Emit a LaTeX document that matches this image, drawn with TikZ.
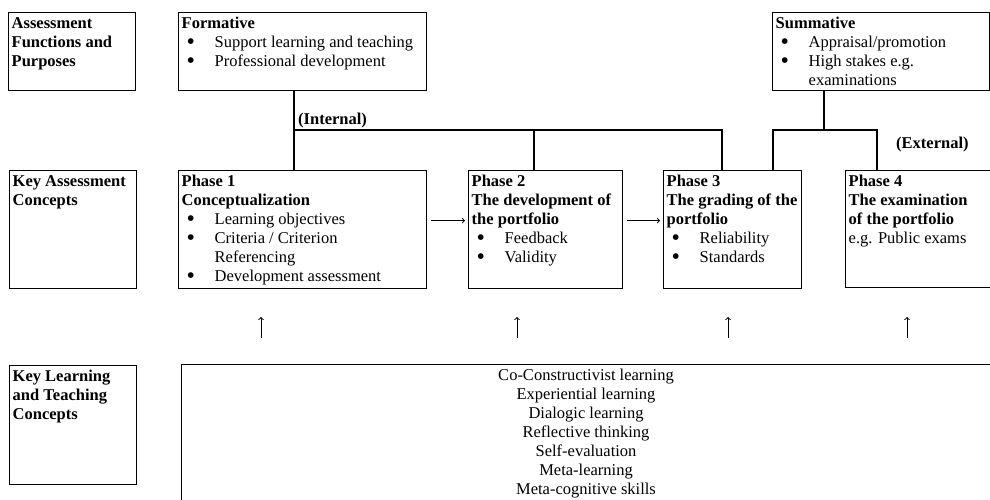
\documentclass[tikz,border=0pt]{standalone}
\usepackage{fontspec}
\setmainfont{Liberation Serif}
\usepackage{tikz}

\newcommand{\dfont}{\fontsize{16.5}{19}\selectfont}
\newcommand{\bul}[1]{\hspace*{5pt}\makebox[28pt][l]{\raisebox{-1.8pt}[0pt][0pt]{\scalebox{1.45}{\textbullet}}}#1}
\newcommand{\bulcont}[1]{\hspace*{33pt}#1}

\tikzset{
  frame/.style={draw, line width=1.2pt, anchor=north west, inner sep=0pt},
  txt/.style={anchor=north west, inner xsep=3.5pt, inner ysep=3pt, align=left, font=\dfont},
  head/.style={txt, font=\dfont\bfseries},
  link/.style={line width=1.2pt},
}

\begin{document}
\begin{tikzpicture}[x=1pt, y=-1pt]
        \useasboundingbox (0,0) rectangle (990,500);
        \clip (0,0) rectangle (990,500);

        \node[frame, minimum width=127pt, minimum height=78pt] (purp) at (8,12) {};
        \node[head] (purptxt) at (purp.north west) {\strut Assessment\\Functions and\\Purposes};
        \node[frame, minimum width=248pt, minimum height=78pt] (form) at (178,12) {};
        \node[txt] (formtxt) at (form.north west) {\strut\textbf{Formative}\\\bul{Support learning and teaching}\\\bul{Professional development}};
        \node[frame, minimum width=217pt, minimum height=78pt] (summ) at (772,12) {};
        \node[txt] (summtxt) at (summ.north west) {\strut\textbf{Summative}\\\bul{Appraisal/promotion}\\\bul{High stakes e.g.}\\\bulcont{examinations}};

        \node[frame, minimum width=127pt, minimum height=118pt] (conc) at (9,170) {};
        \node[head] (conctxt) at (conc.north west) {\strut Key Assessment\\Concepts};
        \node[frame, minimum width=248pt, minimum height=118pt] (ph1) at (178,170) {};
        \node[txt] (ph1txt) at (ph1.north west) {\strut\textbf{Phase 1}\\\textbf{Conceptualization}\\\bul{Learning objectives}\\\bul{Criteria / Criterion}\\\bulcont{Referencing}\\\bul{Development assessment}};
        \node[frame, minimum width=154pt, minimum height=118pt] (ph2) at (468,170) {};
        \node[txt] (ph2txt) at (ph2.north west) {\strut\textbf{Phase 2}\\\textbf{The development of}\\\textbf{the portfolio}\\\bul{Feedback}\\\bul{Validity}};
        \node[frame, minimum width=138pt, minimum height=118pt] (ph3) at (663,170) {};
        \node[txt] (ph3txt) at (ph3.north west) {\strut\textbf{Phase 3}\\\textbf{The grading of the}\\\textbf{portfolio}\\\bul{Reliability}\\\bul{Standards}};
        \node[frame, minimum width=200pt, minimum height=117pt] (ph4) at (845,170) {};
        \node[txt] (ph4txt) at (ph4.north west) {\strut\textbf{Phase 4}\\\textbf{The examination}\\\textbf{of the portfolio}\\e.g. Public exams};

        \node[frame, minimum width=127pt, minimum height=119pt] (teach) at (9,365) {};
        \node[head] (teachtxt) at (teach.north west) {\strut Key Learning\\and Teaching\\Concepts};
        \node[frame, minimum width=830pt, minimum height=150pt] (learn) at (181,364) {};
        \node[txt, anchor=north, align=center] (learntxt) at (586,364) {\strut Co-Constructivist learning\\Experiential learning\\Dialogic learning\\Reflective thinking\\Self-evaluation\\Meta-learning\\Meta-cognitive skills};

        \coordinate (int) at (294,130);
        \coordinate (int2) at (534,130);
        \coordinate (int3) at (722,130);
        \draw[link] (form.south -| int) -- (ph1.north -| int);
        \draw[link] (int) -- (int3) -- (ph3.north -| int3);
        \draw[link] (int2) -- (ph2.north -| int2);
        \node[head, anchor=base west, inner sep=0pt] (intlbl) at (298,124.5) {(Internal)};

        \coordinate (ext) at (824,130);
        \coordinate (ext1) at (773,130);
        \coordinate (ext2) at (877,130);
        \draw[link] (summ.south -| ext) -- (ext);
        \draw[link] (ph3.north -| ext1) |- (ext2) -- (ph4.north -| ext2);
        \node[head, anchor=base west, inner sep=0pt] (extlbl) at (896,148) {(External)};

        \draw[->, line width=1pt, shorten <=4pt, shorten >=3pt] ([yshift=9pt]ph1.east) -- ([yshift=9pt]ph2.west);
        \draw[->, line width=1pt, shorten <=4pt, shorten >=3pt] ([yshift=9pt]ph2.east) -- ([yshift=9pt]ph3.west);

        \coordinate (up1) at (261,338);
        \coordinate (up2) at (517,338);
        \coordinate (up3) at (728,338);
        \coordinate (up4) at (907,338);
        \draw[->, line width=1pt] (up1) -- ++(0,-21);
        \draw[->, line width=1pt] (up2) -- ++(0,-21);
        \draw[->, line width=1pt] (up3) -- ++(0,-21);
        \draw[->, line width=1pt] (up4) -- ++(0,-21);
    \end{tikzpicture}
\end{document}
